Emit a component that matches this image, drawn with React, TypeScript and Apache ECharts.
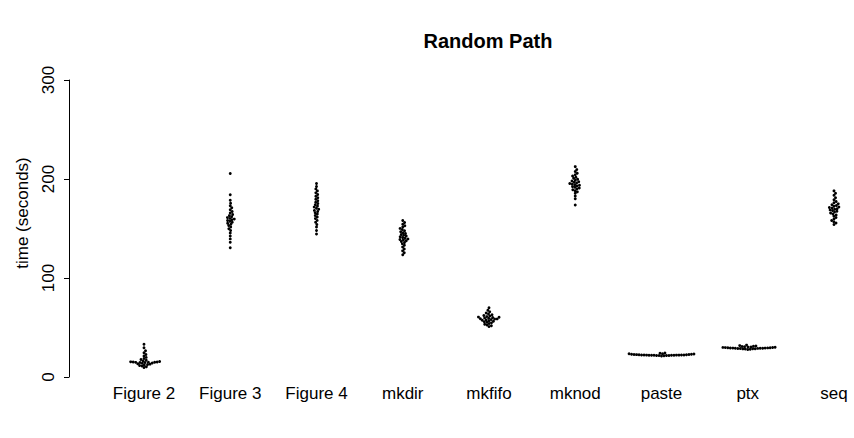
import React, { useEffect, useRef } from "react";
import * as echarts from "echarts";

const categories = ["Figure 2", "Figure 3", "Figure 4", "mkdir", "mkfifo", "mknod", "paste", "ptx", "seq"];

const figure2 = [33.0, 29.5, 26.5, 24.5, 22.8, 21.2, 19.8, 18.6, 17.6, 16.8, 16.2, 15.6, 15.3, 15.2, 15.1, 15.0, 14.9, 14.8, 14.7, 14.6, 14.2, 13.8, 13.4, 13.0, 12.6, 12.2, 11.7, 11.1, 10.4, 9.6];
const figure3 = [205.5, 184.0, 178.5, 175.5, 173.0, 171.0, 169.0, 167.2, 165.6, 164.2, 163.0, 161.9, 161.0, 160.2, 159.5, 158.8, 158.0, 157.2, 156.3, 155.3, 154.2, 153.0, 151.5, 149.8, 148.0, 145.5, 142.5, 139.5, 136.0, 130.5];
const figure4 = [195.5, 192.5, 190.0, 188.0, 186.0, 184.3, 182.6, 181.0, 179.5, 178.0, 176.6, 175.3, 174.0, 172.8, 171.6, 170.5, 169.4, 168.3, 167.1, 165.9, 164.6, 163.2, 161.7, 160.0, 158.2, 156.2, 154.0, 151.5, 148.0, 144.5];
const mkdir = [158.0, 156.0, 154.3, 152.8, 151.4, 150.1, 148.9, 147.8, 146.8, 145.8, 144.9, 144.0, 143.2, 142.4, 141.6, 140.9, 140.2, 139.5, 138.9, 138.3, 137.6, 136.8, 135.8, 134.5, 133.0, 131.2, 129.3, 127.4, 125.5, 123.5];
const mkfifo = [70.0, 67.5, 65.8, 64.6, 63.6, 62.8, 62.1, 61.5, 61.0, 60.5, 60.1, 59.7, 59.3, 58.9, 58.5, 58.1, 57.7, 57.3, 56.8, 56.3, 55.8, 55.3, 54.7, 54.0, 53.3, 52.5, 51.7, 50.9, 60.3, 58.7];
const mknod = [212.5, 209.5, 207.5, 205.8, 204.3, 203.0, 201.8, 200.7, 199.7, 198.8, 198.0, 197.3, 196.6, 196.0, 195.4, 194.8, 194.2, 193.6, 193.0, 192.3, 191.6, 190.8, 190.0, 189.2, 188.2, 187.0, 185.6, 182.8, 180.0, 173.7];
const paste = [21.3, 21.5, 21.6, 21.7, 21.8, 21.8, 21.9, 21.9, 22.0, 22.0, 22.0, 22.1, 22.1, 22.1, 22.2, 22.2, 22.3, 22.3, 22.4, 22.5, 22.6, 22.7, 22.8, 22.9, 23.0, 23.2, 23.4, 23.6, 23.9, 24.3];
const ptx = [27.7, 28.0, 28.2, 28.4, 28.5, 28.6, 28.7, 28.8, 28.9, 29.0, 29.0, 29.1, 29.2, 29.2, 29.3, 29.4, 29.5, 29.6, 29.7, 29.8, 29.9, 30.0, 30.2, 30.4, 30.6, 30.8, 31.0, 31.3, 31.7, 32.2];
const seq = [188.0, 185.5, 183.5, 181.0, 179.0, 177.3, 176.0, 174.9, 174.0, 173.2, 172.5, 171.8, 171.2, 170.6, 170.0, 169.4, 168.8, 168.1, 167.4, 166.6, 165.7, 164.7, 163.6, 162.4, 161.0, 159.5, 158.0, 156.7, 155.5, 154.0];

const groups = [figure2, figure3, figure4, mkdir, mkfifo, mknod, paste, ptx, seq];

const yTicks = [0, 100, 200, 300];

// layout constants
const W = 854;
const H = 438;
const GRID_LEFT = 57.75;
const GRID_TOP = 80;
const GRID_BOTTOM = 61;
const PX_PER_X = 86.25;
const PX_PER_Y = (H - GRID_TOP - GRID_BOTTOM) / (yTicks[yTicks.length - 1] - yTicks[0]);
const DOT = 2.9;
const SPACING = 2.5;

function swarm(values: number[], d: number): number[] {
  const order = values.map((_, i) => i).sort((a, b) => values[a] - values[b]);
  const placed: { x: number; y: number }[] = [];
  const xs = new Array(values.length).fill(0);
  for (const i of order) {
    const y = values[i] * PX_PER_Y;
    const cands = [0];
    for (const p of placed) {
      const dy = Math.abs(p.y - y);
      if (dy < d) {
        const dx = Math.sqrt(d * d - dy * dy);
        cands.push(p.x + dx, p.x - dx);
      }
    }
    cands.sort((a, b) => Math.abs(a) - Math.abs(b));
    let chosen = 0;
    for (const c of cands) {
      let ok = true;
      for (const p of placed) {
        const dx = p.x - c;
        const dy = p.y - y;
        if (dx * dx + dy * dy < d * d - 1e-6) {
          ok = false;
          break;
        }
      }
      if (ok) {
        chosen = c;
        break;
      }
    }
    placed.push({ x: chosen, y });
    xs[i] = chosen;
  }
  return xs;
}

export default function App() {
  const ref = useRef<HTMLDivElement>(null);
  useEffect(() => {
    document.body.style.margin = "0";
    const chart = echarts.init(ref.current!, null, { renderer: "svg" });
    const data: number[][] = [];
    groups.forEach((vals, gi) => {
      const offs = swarm(vals, SPACING);
      vals.forEach((v, i) => {
        data.push([gi + 1 + offs[i] / PX_PER_X, v]);
      });
    });
    const xMax = (W - GRID_LEFT) / PX_PER_X;
    const font = "Liberation Sans, Arial, sans-serif";
    chart.setOption({
      animation: false,
      backgroundColor: "#ffffff",
      title: {
        text: "Random Path",
        left: 483,
        top: 26,
        textAlign: "center",
        textStyle: { fontFamily: font, fontSize: 20, fontWeight: "bold", color: "#000" },
      },
      graphic: [
        {
          type: "text",
          x: 22,
          y: 213,
          rotation: Math.PI / 2,
          style: {
            text: "time (seconds)",
            fontFamily: font,
            fontSize: 17,
            fill: "#000",
            align: "center",
            verticalAlign: "middle",
          },
        },
      ],
      grid: { left: GRID_LEFT, right: 0, top: GRID_TOP, bottom: GRID_BOTTOM, containLabel: false },
      xAxis: {
        type: "value",
        min: 0,
        max: xMax,
        interval: 1,
        axisLine: { show: false },
        axisTick: { show: false },
        splitLine: { show: false },
        axisLabel: {
          margin: 8,
          showMaxLabel: false,
          fontFamily: font,
          fontSize: 17,
          color: "#000",
          formatter: (v: number) => {
            const k = Math.round(v);
            return Math.abs(v - k) < 1e-6 && k >= 1 && k <= categories.length ? categories[k - 1] : "";
          },
        },
      },
      yAxis: {
        type: "value",
        min: yTicks[0],
        max: yTicks[yTicks.length - 1],
        interval: 100,
        offset: -(69 - GRID_LEFT),
        axisLine: { show: true, lineStyle: { color: "#000", width: 1 } },
        axisTick: { show: true, length: 5, lineStyle: { color: "#000", width: 1 } },
        splitLine: { show: false },
        axisLabel: { rotate: 90, margin: 12, fontFamily: font, fontSize: 17, color: "#000" },
      },
      series: [
        {
          type: "scatter",
          symbol: "circle",
          symbolSize: DOT,
          itemStyle: { color: "#000", opacity: 1 },
          data,
          clip: false,
        },
      ],
    });
    return () => chart.dispose();
  }, []);
  return <div ref={ref} style={{ position: "fixed", left: 0, top: 0, width: W, height: H }} />;
}
